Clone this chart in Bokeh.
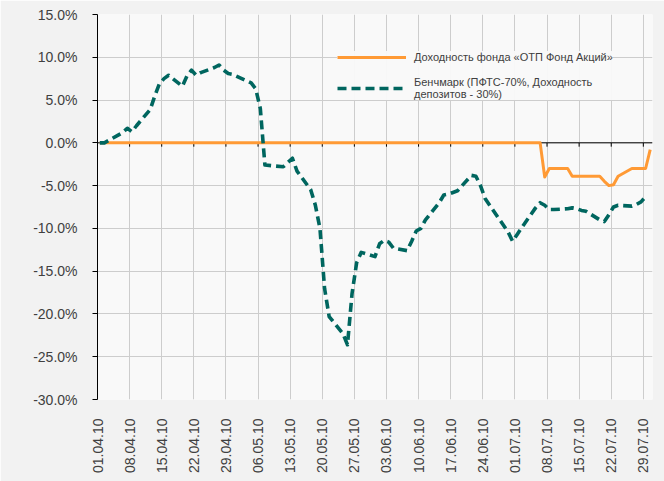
import math
from datetime import datetime, timedelta

from bokeh.plotting import figure
from bokeh.models import (Range1d, FixedTicker, PrintfTickFormatter, DatetimeTickFormatter,
                          Span, Legend, LegendItem)
from bokeh.embed import file_html
from bokeh.resources import INLINE

# ---------------- data ----------------
FUND_NAME = "Доходность фонда «ОТП Фонд Акций»"
BENCH_NAME = "Бенчмарк (ПФТС-70%, Доходность\nдепозитов - 30%)"

FUND_DATES = ["01.04.10", "06.07.10", "07.07.10", "08.07.10", "09.07.10", "12.07.10",
              "13.07.10", "14.07.10", "15.07.10", "16.07.10", "19.07.10", "20.07.10",
              "21.07.10", "22.07.10", "23.07.10", "26.07.10", "27.07.10", "28.07.10",
              "29.07.10", "30.07.10"]
FUND_VALUES = [0.0, 0.0, -4.0, -3.0, -3.0, -3.0,
               -3.9, -3.9, -3.9, -3.9, -3.9, -4.5,
               -5.0, -4.9, -3.9, -3.0, -3.0, -3.0,
               -3.0, -0.8]

BENCH_DATES = ["01.04.10", "02.04.10", "05.04.10", "06.04.10", "07.04.10", "08.04.10", "09.04.10",
               "12.04.10", "13.04.10", "14.04.10", "15.04.10", "16.04.10",
               "19.04.10", "20.04.10", "21.04.10", "22.04.10", "23.04.10",
               "26.04.10", "27.04.10", "28.04.10", "29.04.10", "30.04.10",
               "04.05.10", "05.05.10", "06.05.10", "07.05.10",
               "11.05.10", "12.05.10", "13.05.10", "14.05.10",
               "17.05.10", "18.05.10", "19.05.10", "20.05.10", "21.05.10",
               "24.05.10", "25.05.10", "26.05.10", "27.05.10", "28.05.10",
               "31.05.10", "01.06.10", "02.06.10", "03.06.10", "04.06.10",
               "07.06.10", "08.06.10", "09.06.10", "10.06.10", "11.06.10",
               "14.06.10", "15.06.10", "16.06.10", "17.06.10", "18.06.10",
               "21.06.10", "22.06.10", "23.06.10", "24.06.10", "25.06.10",
               "29.06.10", "30.06.10", "01.07.10", "02.07.10",
               "05.07.10", "06.07.10", "07.07.10", "08.07.10", "09.07.10",
               "12.07.10", "13.07.10", "14.07.10", "15.07.10", "16.07.10",
               "19.07.10", "20.07.10", "21.07.10", "22.07.10", "23.07.10",
               "26.07.10", "27.07.10", "28.07.10", "29.07.10"]
BENCH_VALUES = [0.0, 0.0, 0.9, 1.2, 1.7, 1.3, 2.0,
                3.9, 5.5, 6.9, 7.5, 7.9,
                6.6, 7.8, 8.5, 7.9, 8.2,
                8.8, 9.1, 8.5, 8.1, 8.0,
                7.0, 6.3, 4.0, -2.6,
                -2.8, -2.3, -1.8, -3.3,
                -5.5, -7.3, -10.0, -17.0, -20.3,
                -22.3, -23.6, -17.6, -14.0, -12.8,
                -13.3, -11.8, -11.4, -11.6, -12.3,
                -12.6, -11.5, -10.3, -10.0, -9.0,
                -7.0, -6.1, -6.0, -5.8, -5.6,
                -3.8, -3.9, -5.0, -6.5, -7.3,
                -10.4, -11.5, -10.7, -9.9,
                -7.6, -7.0, -7.3, -7.8, -7.8,
                -7.7, -7.6, -7.7, -7.9, -8.0,
                -9.0, -9.2, -8.4, -7.5, -7.3,
                -7.4, -7.2, -6.9, -6.3]

TICK_LABELS = ["01.04.10", "08.04.10", "15.04.10", "22.04.10", "29.04.10", "06.05.10",
               "13.05.10", "20.05.10", "27.05.10", "03.06.10", "10.06.10", "17.06.10",
               "24.06.10", "01.07.10", "08.07.10", "15.07.10", "22.07.10", "29.07.10"]
Y_TICKS = [-30, -25, -20, -15, -10, -5, 0, 5, 10, 15]
X_START = "01.04.10"
X_END = "31.07.10"
Y_MIN, Y_MAX = -30, 15

# ---------------- style ----------------
ORANGE = "#ff9a35"
TEAL = "#00665f"
GRID = "#cdcdcd"
TEXT = "#404040"
FONT = "Liberation Sans"
ZERO_TICK_LEN = 0.45


def parse(s):
    return datetime.strptime(s, "%d.%m.%y")


def mid(s):
    # Excel date axis: points sit in the middle of each day
    return parse(s) + timedelta(hours=12)


def ms(d):
    return (d - datetime(1970, 1, 1)).total_seconds() * 1000.0


fund_x = [mid(d) for d in FUND_DATES]
bench_x = [mid(d) for d in BENCH_DATES]
tick_x = [parse(d) for d in TICK_LABELS]

p = figure(width=664, height=481, x_axis_type="datetime",
           x_range=Range1d(parse(X_START), parse(X_END)),
           y_range=Range1d(Y_MIN, Y_MAX),
           output_backend="svg", toolbar_location=None,
           min_border_left=97, min_border_right=12, min_border_top=14, min_border_bottom=82)

p.background_fill_color = "#f9f9f9"
p.border_fill_color = "#f2f2f2"
p.outline_line_color = None

# axes
p.yaxis.ticker = FixedTicker(ticks=Y_TICKS)
p.yaxis.formatter = PrintfTickFormatter(format="%.1f%%")
p.yaxis.axis_line_color = "black"
p.yaxis.major_tick_line_color = "black"
p.yaxis.major_tick_out = 5
p.yaxis.major_tick_in = 0
p.yaxis.minor_tick_line_color = None
p.yaxis.major_label_standoff = 15
p.yaxis.major_label_text_font = FONT
p.yaxis.major_label_text_font_size = "14px"
p.yaxis.major_label_text_color = TEXT

p.xaxis.ticker = FixedTicker(ticks=[ms(t) for t in tick_x])
fmt = "%d.%m.%y"
p.xaxis.formatter = DatetimeTickFormatter(days=fmt, months=fmt, years=fmt, hours=fmt,
                                          hourmin=fmt, minutes=fmt, minsec=fmt,
                                          seconds=fmt, milliseconds=fmt, microseconds=fmt)
p.xaxis.major_label_orientation = math.pi / 2
p.xaxis.axis_line_color = None
p.xaxis.major_tick_line_color = None
p.xaxis.minor_tick_line_color = None
p.xaxis.major_tick_out = 0
p.xaxis.major_tick_in = 0
p.xaxis.major_label_standoff = 19
p.xaxis.major_label_text_font = FONT
p.xaxis.major_label_text_font_size = "14px"
p.xaxis.major_label_text_color = TEXT

p.grid.grid_line_color = GRID
p.grid.grid_line_width = 1

# zero line acting as category axis
zero = Span(location=0, dimension="width", line_color="black", line_width=1, level="underlay")
p.add_layout(zero)
p.segment(x0=tick_x, y0=[0] * len(tick_x), x1=tick_x, y1=[-ZERO_TICK_LEN] * len(tick_x),
          line_color="black", line_width=1)

r_fund = p.line(fund_x, FUND_VALUES, line_color=ORANGE, line_width=3.0, line_join="round")
r_bench = p.line(bench_x, BENCH_VALUES, line_color=TEAL, line_width=3.6,
                 line_dash="9 5", line_join="round")

legend = Legend(items=[LegendItem(label=FUND_NAME, renderers=[r_fund]),
                       LegendItem(label=BENCH_NAME, renderers=[r_bench])],
                location=(240, 299), glyph_width=69, glyph_height=12, label_standoff=8,
                padding=4, spacing=13, background_fill_color="#f9f9f9",
                border_line_color=None, label_text_font=FONT,
                label_text_font_size="11px", label_text_color=TEXT)
p.add_layout(legend)

open("out.html", "w").write(file_html(p, INLINE))
